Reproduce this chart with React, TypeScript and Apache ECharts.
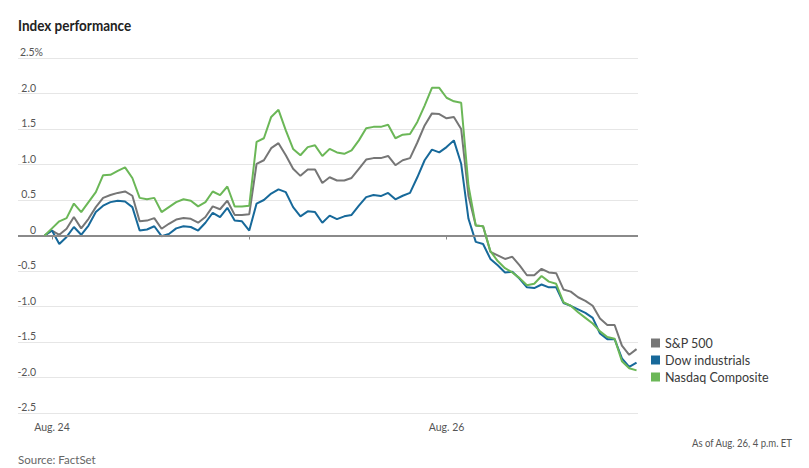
import React, { useEffect, useRef } from 'react';
import * as echarts from 'echarts';

// 15-minute points: index 0 = previous close, 1..27 = Aug. 24, 28..54 = Aug. 25, 55..81 = Aug. 26
const seriesNames = ['S&P 500', 'Dow industrials', 'Nasdaq Composite'];
const seriesColors = ['#767676', '#17699a', '#6bb757'];

const sp500 = [
  0, 0.07, 0.01, 0.095, 0.26, 0.1, 0.235, 0.4, 0.53, 0.57,
  0.6, 0.62, 0.56, 0.2, 0.21, 0.245, 0.095, 0.165, 0.225, 0.245,
  0.235, 0.18, 0.26, 0.41, 0.37, 0.49, 0.29, 0.29, 0.3, 1.01,
  1.06, 1.23, 1.3, 1.13, 0.94, 0.84, 0.93, 0.93, 0.74, 0.82,
  0.775, 0.775, 0.81, 0.94, 1.07, 1.09, 1.09, 1.12, 0.99, 1.06,
  1.09, 1.31, 1.55, 1.72, 1.71, 1.65, 1.67, 1.5, 0.56, 0.14,
  0.13, -0.23, -0.28, -0.33, -0.3, -0.42, -0.56, -0.56, -0.47, -0.52,
  -0.53, -0.76, -0.79, -0.87, -0.92, -0.99, -1.17, -1.26, -1.26, -1.55,
  -1.68, -1.6,
];

const dow = [
  0, 0.07, -0.12, -0.02, 0.12, 0.01, 0.14, 0.33, 0.42, 0.47,
  0.49, 0.48, 0.4, 0.07, 0.085, 0.13, -0.01, 0.02, 0.1, 0.13,
  0.12, 0.07, 0.18, 0.32, 0.26, 0.39, 0.21, 0.2, 0.07, 0.45,
  0.5, 0.59, 0.65, 0.61, 0.4, 0.27, 0.34, 0.33, 0.18, 0.28,
  0.23, 0.27, 0.29, 0.42, 0.54, 0.57, 0.555, 0.6, 0.51, 0.56,
  0.6, 0.82, 1.06, 1.21, 1.17, 1.245, 1.34, 1.01, 0.235, -0.09,
  -0.12, -0.33, -0.42, -0.52, -0.51, -0.61, -0.73, -0.74, -0.69, -0.73,
  -0.73, -0.95, -0.99, -1.04, -1.09, -1.16, -1.38, -1.46, -1.46, -1.73,
  -1.85, -1.79,
];

const nasdaq = [
  0, 0.1, 0.2, 0.245, 0.45, 0.33, 0.47, 0.61, 0.85, 0.855,
  0.91, 0.96, 0.81, 0.53, 0.51, 0.53, 0.33, 0.4, 0.47, 0.51,
  0.49, 0.41, 0.47, 0.62, 0.57, 0.69, 0.41, 0.41, 0.42, 1.32,
  1.37, 1.67, 1.77, 1.48, 1.22, 1.13, 1.245, 1.27, 1.12, 1.22,
  1.17, 1.15, 1.2, 1.34, 1.51, 1.53, 1.53, 1.56, 1.37, 1.42,
  1.43, 1.6, 1.83, 2.08, 2.08, 1.94, 1.89, 1.87, 0.7, 0.14,
  0.13, -0.22, -0.36, -0.46, -0.52, -0.6, -0.7, -0.68, -0.57, -0.65,
  -0.68, -0.94, -0.99, -1.08, -1.16, -1.24, -1.35, -1.43, -1.455, -1.77,
  -1.87, -1.9,
];

const dayTickIndex = [1, 28, 55];
const dayTickLabel = ['Aug. 24', '', 'Aug. 26'];

const titleText = 'Index performance';
const sourceText = 'Source: FactSet';
const noteText = 'As of Aug. 26, 4 p.m. ET';

const FONT = 'Lato, "Noto Sans", sans-serif';

export default function App() {
  const ref = useRef<HTMLDivElement>(null);

  useEffect(() => {
    if (!ref.current) return;
    const chart = echarts.init(ref.current, null, { renderer: 'svg' });
    const allSeries = [sp500, dow, nasdaq];

    const fmtY = (v: number) => {
      if (v === 2.5) return '2.5%';
      const s = v === 0 ? '0' : v.toFixed(1);
      return '{n|' + s + '}';
    };

    chart.setOption({
      animation: false,
      backgroundColor: '#ffffff',
      grid: { left: 18, right: 171, top: 58, bottom: 55 },
      legend: {
        orient: 'vertical',
        left: 651,
        top: 336,
        padding: 0,
        itemWidth: 9,
        itemHeight: 9,
        itemGap: 3,
        icon: 'rect',
        selectedMode: false,
        data: seriesNames,
        textStyle: { fontFamily: FONT, fontSize: 12.5, color: '#3a3a3a', lineHeight: 14 },
      },
      xAxis: {
        type: 'value',
        min: -3.65,
        max: 81.2,
        axisLine: { show: false },
        splitLine: { show: false },
        axisTick: {
          show: true,
          customValues: dayTickIndex,
          length: 4,
          lineStyle: { color: '#888', width: 1 },
        },
        axisLabel: {
          customValues: dayTickIndex.filter((_, i) => dayTickLabel[i] !== ''),
          formatter: (v: number) => dayTickLabel[dayTickIndex.indexOf(v)] || '',
          color: '#555',
          fontFamily: FONT,
          fontSize: 10.5,
          margin: 8,
        },
      },
      yAxis: {
        type: 'value',
        min: -2.5,
        max: 2.5,
        interval: 0.5,
        axisLine: { show: false },
        axisTick: { show: false },
        splitLine: { lineStyle: { color: '#e6e6e6', width: 1 } },
        axisLabel: {
          inside: true,
          align: 'right',
          verticalAlign: 'bottom',
          margin: 25,
          lineHeight: 12,
          color: '#555',
          fontFamily: FONT,
          fontSize: 10.5,
          formatter: fmtY,
          rich: {
            n: {
              padding: [0, 7, 0, 0],
              color: '#555',
              fontFamily: FONT,
              fontSize: 10.5,
              lineHeight: 12,
            },
          },
        },
      },
      series: allSeries.map((vals, si) => ({
        name: seriesNames[si],
        type: 'line',
        data: vals.map((v, i) => [i, v]),
        showSymbol: false,
        symbol: 'none',
        color: seriesColors[si],
        lineStyle: { color: seriesColors[si], width: 2 },
        emphasis: { disabled: true },
        z: 3 + si,
        markLine:
          si === 0
            ? {
                silent: true,
                symbol: 'none',
                label: { show: false },
                lineStyle: { color: '#8a8a8a', width: 2, type: 'solid' },
                data: [{ yAxis: 0 }],
              }
            : undefined,
      })),
      graphic: [
        {
          type: 'text',
          x: 18,
          y: 25,
          scaleX: 0.93,
          silent: true,
          style: {
            text: titleText,
            x: 0,
            y: 0,
            align: 'left',
            verticalAlign: 'middle',
            fontFamily: FONT,
            fontSize: 14.5,
            fontWeight: 'bold',
            fill: '#222',
          },
        },
        {
          type: 'text',
          x: 18,
          y: 459,
          silent: true,
          style: {
            text: sourceText,
            x: 0,
            y: 0,
            align: 'left',
            verticalAlign: 'middle',
            fontFamily: FONT,
            fontSize: 11.5,
            fill: '#666',
          },
        },
        {
          type: 'text',
          x: 792,
          y: 443,
          scaleX: 0.87,
          silent: true,
          style: {
            text: noteText,
            x: 0,
            y: 0,
            align: 'right',
            verticalAlign: 'middle',
            fontFamily: FONT,
            fontSize: 11,
            fill: '#555',
          },
        },
      ],
    });

    return () => chart.dispose();
  }, []);

  return (
    <div
      ref={ref}
      style={{ position: 'fixed', left: 0, top: 0, width: 809, height: 468, background: '#fff' }}
    />
  );
}
